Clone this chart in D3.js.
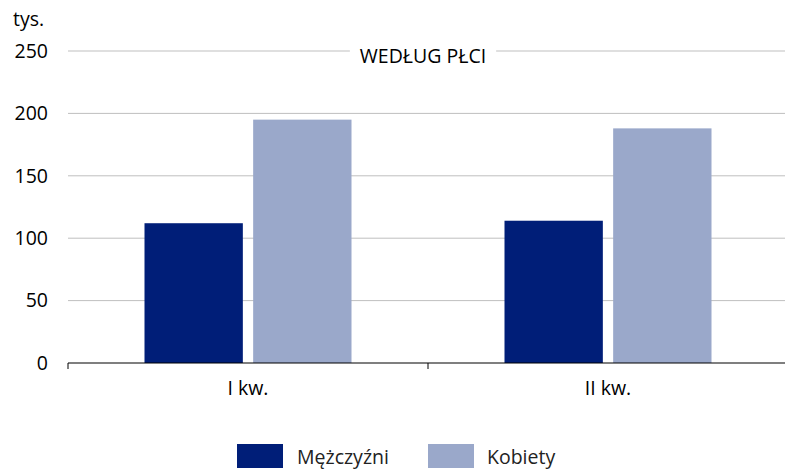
<!DOCTYPE html>
<html><head><meta charset="utf-8">
<script src="https://cdn.jsdelivr.net/npm/d3@7"></script>
<style>body{margin:0;background:#fff}svg{display:block;font-family:"Open Sans",sans-serif}</style>
</head><body><svg id="c" width="785" height="470"></svg>
<script>
const categories = ["I kw.", "II kw."];
const seriesNames = ["Mężczyźni", "Kobiety"];
const men = [112, 114];
const women = [195, 188];
const yTicks = [0, 50, 100, 150, 200, 250];
const colors = ["#001e78", "#9aa8ca"];

const svg = d3.select("#c");
const x0 = 68, x1 = 788, yTop = 51, yBot = 363;
const x = d3.scaleBand().domain(categories).range([x0, x1]).paddingInner(0).paddingOuter(0);
const xs = d3.scaleBand().domain(seriesNames).range([0, 207]).paddingInner(0.095);
const y = d3.scaleLinear().domain([0, 250]).range([yBot, yTop]);
const fs = 19.5;

// grid
svg.append("g").selectAll("line").data(yTicks.filter(d => d > 0)).join("line")
  .attr("x1", x0).attr("x2", 785).attr("y1", d => y(d)).attr("y2", d => y(d))
  .attr("stroke", "#bfbfbf").attr("stroke-width", 1);

// y labels
svg.append("g").selectAll("text").data(yTicks).join("text")
  .attr("x", 48).attr("y", d => y(d)).attr("dy", "0.35em").attr("text-anchor", "end")
  .attr("font-size", fs).attr("fill", "#000").text(d => d);
svg.append("text").attr("x", 13).attr("y", 26).attr("font-size", fs).text("tys.");

// bars
const data = categories.map((c, i) => ({c, vals: [men[i], women[i]]}));
const g = svg.append("g");
data.forEach(d => {
  const cx = x(d.c) + x.bandwidth() / 2 - 103.5;
  d.vals.forEach((v, j) => {
    g.append("rect").attr("x", cx + xs(seriesNames[j])).attr("width", xs.bandwidth())
      .attr("y", y(v)).attr("height", yBot - y(v)).attr("fill", colors[j]);
  });
});

// title with white background
const tg = svg.append("g");
const bg = tg.append("rect").attr("fill", "#fff");
const t = tg.append("text").attr("x", 423).attr("y", 56).attr("dy", "0.35em")
  .attr("text-anchor", "middle").attr("font-size", 19.5).text("WEDŁUG PŁCI");
const bb = t.node().getBBox();
bg.attr("x", bb.x - 10).attr("y", bb.y).attr("width", bb.width + 20).attr("height", bb.height);

// x axis
const ax = svg.append("g").attr("transform", `translate(0,${yBot})`);
ax.append("line").attr("x1", x0).attr("x2", 785).attr("stroke", "#000").attr("stroke-width", 1.2);
ax.selectAll(".tk").data([x0, x0 + x.bandwidth()]).join("line").attr("class", "tk")
  .attr("x1", d => d).attr("x2", d => d).attr("y1", 0).attr("y2", 6).attr("stroke", "#000");
ax.selectAll(".lb").data(categories).join("text").attr("class", "lb")
  .attr("x", d => x(d) + x.bandwidth() / 2).attr("y", 32).attr("text-anchor", "middle")
  .attr("font-size", fs).text(d => d);

// legend
const leg = [{n: seriesNames[0], sx: 237, tx: 297}, {n: seriesNames[1], sx: 428, tx: 487}];
leg.forEach((l, i) => {
  svg.append("rect").attr("x", l.sx).attr("y", 444).attr("width", 46).attr("height", 24).attr("fill", colors[i]);
  svg.append("text").attr("x", l.tx).attr("y", 464).attr("font-size", fs).attr("fill", "#222").text(l.n);
});
</script></body></html>
